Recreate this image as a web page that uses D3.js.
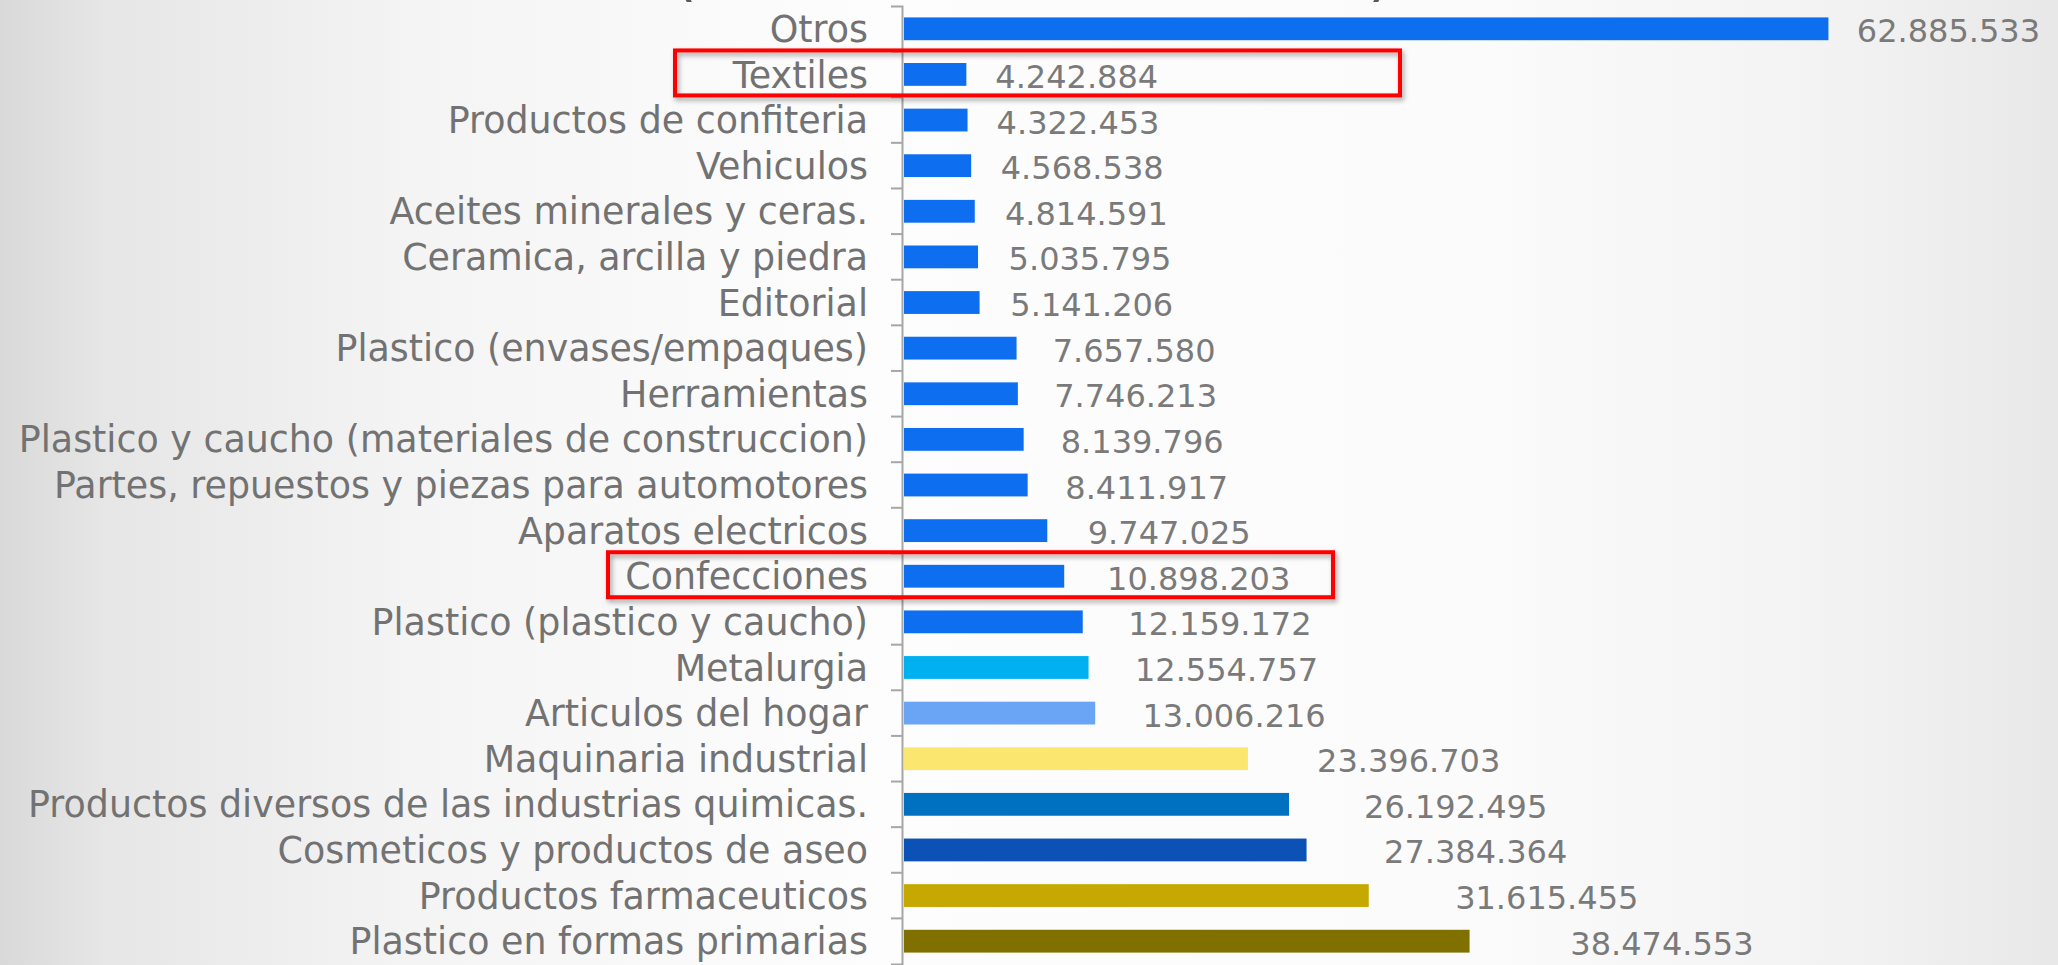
<!DOCTYPE html>
<html>
<head>
<meta charset="utf-8">
<script src="https://cdn.jsdelivr.net/npm/d3@7"></script>
<style>
  html, body { margin: 0; padding: 0; overflow: hidden; }
</style>
</head>
<body>
<div id="bar-chart"></div>
<script>
const categories = [
  'Otros',
  'Textiles',
  'Productos de confiteria',
  'Vehiculos',
  'Aceites minerales y ceras.',
  'Ceramica, arcilla y piedra',
  'Editorial',
  'Plastico (envases/empaques)',
  'Herramientas',
  'Plastico y caucho (materiales de construccion)',
  'Partes, repuestos y piezas para automotores',
  'Aparatos electricos',
  'Confecciones',
  'Plastico (plastico y caucho)',
  'Metalurgia',
  'Articulos del hogar',
  'Maquinaria industrial',
  'Productos diversos de las industrias quimicas.',
  'Cosmeticos y productos de aseo',
  'Productos farmaceuticos',
  'Plastico en formas primarias'
]

const values = [
  62885533, 4242884, 4322453, 4568538, 4814591, 5035795, 5141206,
  7657580, 7746213, 8139796, 8411917, 9747025, 10898203, 12159172,
  12554757, 13006216, 23396703, 26192495, 27384364, 31615455, 38474553
]

const highlighted = ['Textiles', 'Confecciones']

const blue = '#0e6ef0'
const barColors = [
  blue, blue, blue, blue, blue, blue, blue, blue, blue, blue, blue, blue,
  blue, blue, '#00b0f0', '#6aa5f5', '#fbe76f', '#0070c0', '#0b51b6',
  '#c6a900', '#7f7000'
]

const datapoints = categories.map((c, i) => ({ category: c, value: values[i] }))

const width = 2058
const height = 965

const svg = d3
  .select('#bar-chart')
  .append('svg')
  .attr('width', width)
  .attr('height', height)
  .style('display', 'block')

const defs = svg.append('defs')

const bg = defs
  .append('linearGradient')
  .attr('id', 'bg')
  .attr('x1', 0)
  .attr('x2', 1)
  .attr('y1', 0)
  .attr('y2', 0)
;[
  [0, '#d9d9d9'],
  [0.05, '#e6e6e6'],
  [0.2, '#f4f4f4'],
  [0.42, '#fdfdfd'],
  [0.72, '#fbfbfb'],
  [0.9, '#f2f2f2'],
  [1, '#e8e8e8']
].forEach(s => bg.append('stop').attr('offset', s[0]).attr('stop-color', s[1]))

const shadow = defs.append('filter').attr('id', 'shadow')
  .attr('x', '-5%').attr('y', '-30%').attr('width', '110%').attr('height', '170%')
shadow
  .append('feDropShadow')
  .attr('dx', 2)
  .attr('dy', 3)
  .attr('stdDeviation', 2.5)
  .attr('flood-color', '#000')
  .attr('flood-opacity', 0.35)

svg
  .append('rect')
  .attr('width', width)
  .attr('height', height)
  .attr('fill', 'url(#bg)')

// clipped title, only the bottom of the brackets shows
svg
  .append('g')
  .attr('font-family', 'DejaVu Sans, sans-serif')
  .attr('font-size', 64)
  .attr('fill', '#595959')
  .selectAll('text')
  .data(['(', ')'])
  .enter()
  .append('text')
  .attr('x', (d, i) => (i === 0 ? 672 : 1368))
  .attr('y', -6)
  .text(d => d)

const axisX = 902

const xPositionScale = d3
  .scaleLinear()
  .domain([0, 70000000])
  .range([axisX + 2, 1933])

// data labels sit further out on the longer bars
const labelScale = d3
  .scaleLinear()
  .domain([0, 70000000])
  .range([924, 2100])

const yPositionScale = d3
  .scaleBand()
  .domain(categories)
  .range([6, 964])
  .paddingInner(0.5)
  .paddingOuter(0.25)

const colorScale = d3.scaleOrdinal().domain(categories).range(barColors)

const locale = d3.formatLocale({
  decimal: ',',
  thousands: '.',
  grouping: [3],
  currency: ['', '']
})
const formatValue = locale.format(',d')

svg
  .selectAll('.bar')
  .data(datapoints)
  .enter()
  .append('rect')
  .attr('class', 'bar')
  .attr('x', xPositionScale(0))
  .attr('y', d => yPositionScale(d.category))
  .attr('width', d => xPositionScale(d.value) - xPositionScale(0))
  .attr('height', yPositionScale.bandwidth())
  .attr('fill', d => colorScale(d.category))

const yAxis = d3
  .axisLeft(yPositionScale)
  .tickSizeInner(0)
  .tickSizeOuter(11)
  .tickPadding(34)

const yAxisG = svg
  .append('g')
  .attr('class', 'axis y-axis')
  .attr('transform', 'translate(' + axisX + ',0)')
  .call(yAxis)

yAxisG
  .select('.domain')
  .attr('stroke', '#a6a6a6')
  .attr('stroke-width', 2)

yAxisG
  .selectAll('.tick text')
  .attr('font-family', 'DejaVu Sans, sans-serif')
  .attr('font-size', 36.4)
  .attr('fill', '#727272')
  .attr('dy', '0.36em')

// ticks between the categories
const step = yPositionScale.step()
yAxisG
  .selectAll('.sep')
  .data(categories.slice(1))
  .enter()
  .append('line')
  .attr('class', 'sep')
  .attr('x1', -11)
  .attr('x2', 0)
  .attr('y1', d => yPositionScale(d) - step * 0.25)
  .attr('y2', d => yPositionScale(d) - step * 0.25)
  .attr('stroke', '#a6a6a6')
  .attr('stroke-width', 2)

const labels = svg
  .selectAll('.value-label')
  .data(datapoints)
  .enter()
  .append('text')
  .attr('class', 'value-label')
  .attr('x', d => labelScale(d.value))
  .attr('y', d => yPositionScale(d.category) + yPositionScale.bandwidth() / 2 + 2)
  .attr('dy', '0.36em')
  .attr('font-family', 'DejaVu Sans, sans-serif')
  .attr('font-size', 32)
  .attr('fill', '#7a7a7a')
  .text(d => formatValue(d.value))

// keep labels inside the page
labels.each(function(d) {
  const el = d3.select(this)
  const w = this.getComputedTextLength()
  if (labelScale(d.value) + w > width - 18) {
    el.attr('x', width - 18).attr('text-anchor', 'end')
  }
})

const boxLeft = { Textiles: 675, Confecciones: 608 }
svg
  .selectAll('.highlight')
  .data(highlighted)
  .enter()
  .append('rect')
  .attr('class', 'highlight')
  .attr('x', d => boxLeft[d])
  .attr('y', d => yPositionScale(d) + yPositionScale.bandwidth() / 2 - 24)
  .attr('width', 725)
  .attr('height', 45)
  .attr('fill', 'none')
  .attr('stroke', '#ff0000')
  .attr('stroke-width', 4)
  .attr('filter', 'url(#shadow)')
</script>
</body>
</html>
